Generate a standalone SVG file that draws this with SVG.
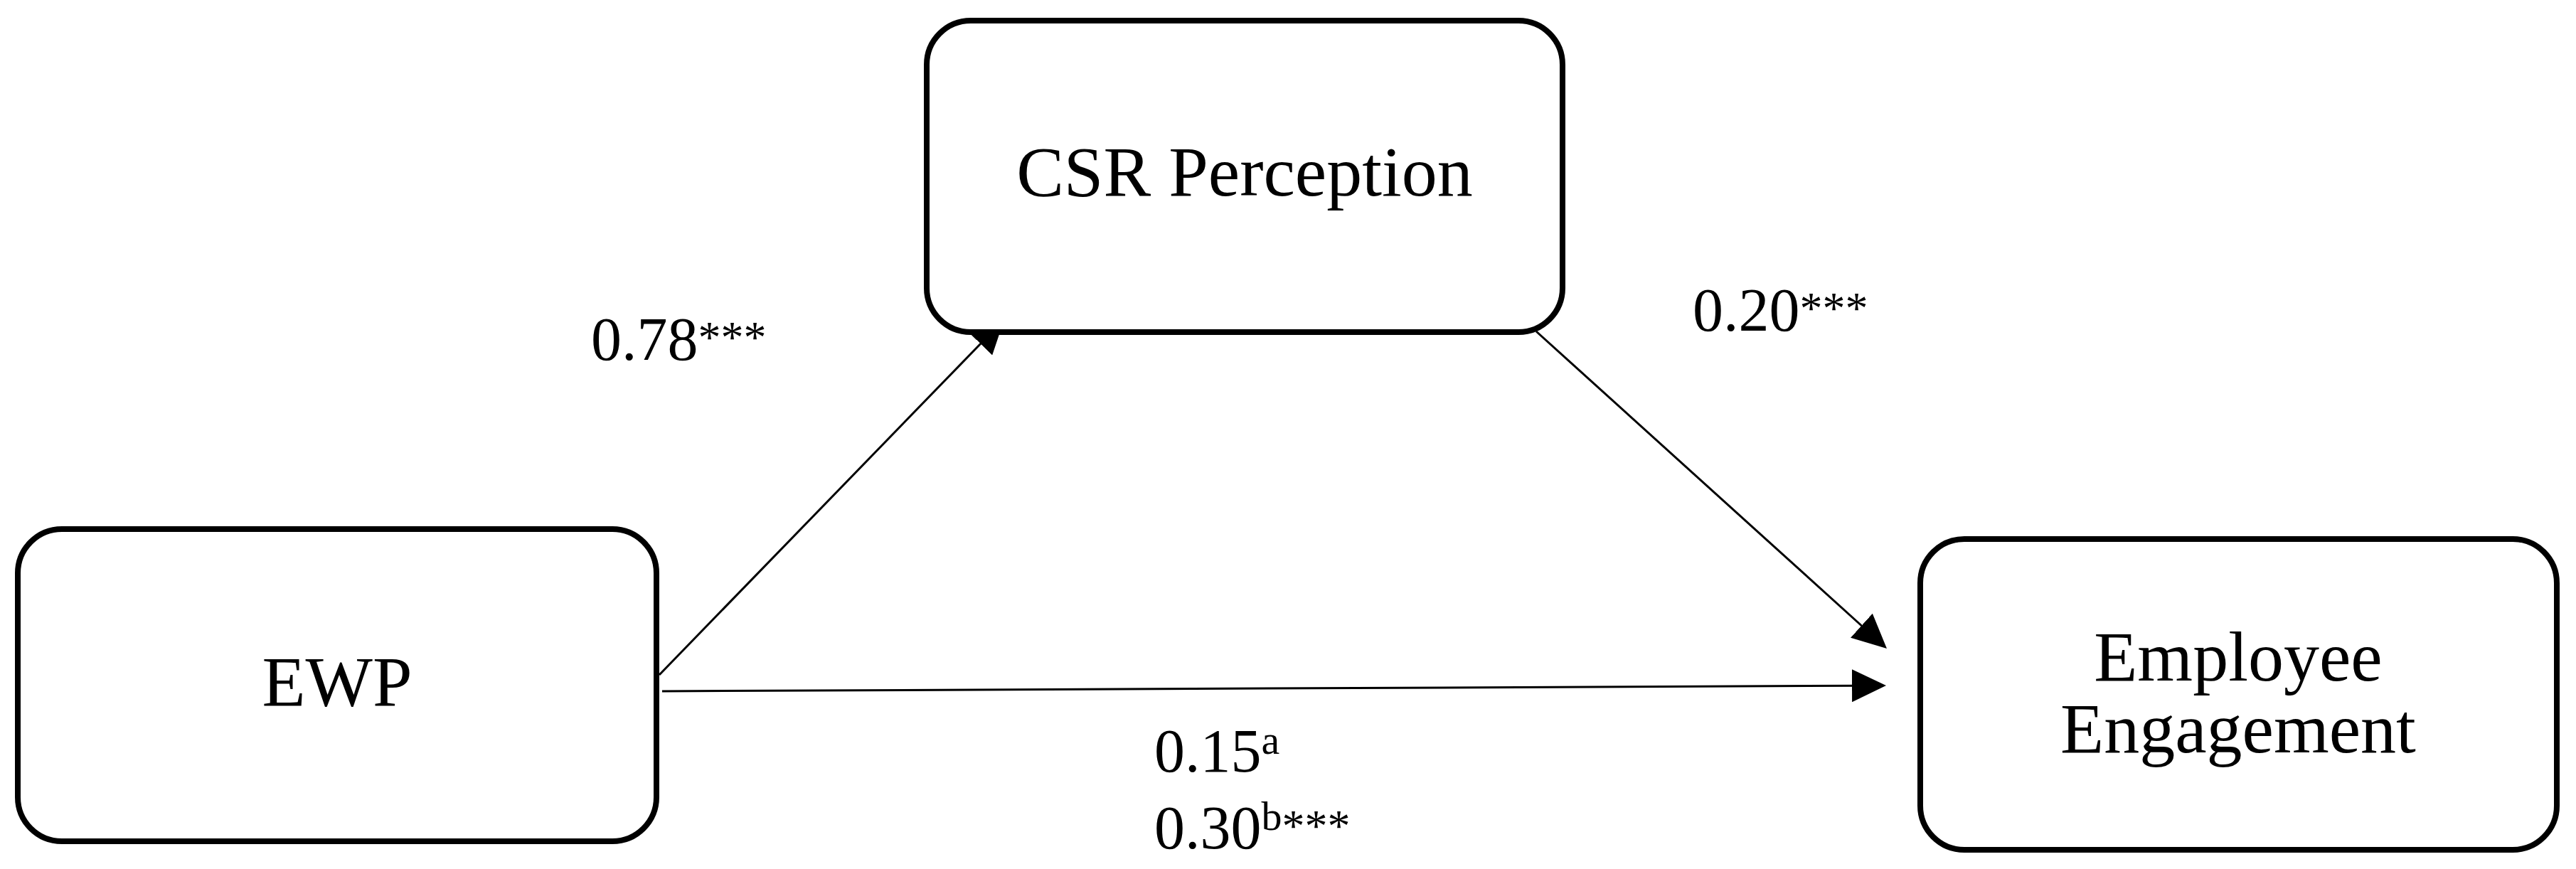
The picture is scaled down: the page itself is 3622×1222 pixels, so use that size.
<svg xmlns="http://www.w3.org/2000/svg" width="3622" height="1222" viewBox="0 0 3622 1222">
  <style>
    .box { fill: #ffffff; stroke: #000000; stroke-width: 8; }
    .node-text { font-family: "Liberation Serif", "Times New Roman", serif; font-size: 100px; fill: #000000; text-anchor: middle; }
    .label { font-family: "Liberation Serif", "Times New Roman", serif; font-size: 86px; fill: #000000; }
    .sup { font-size: 58px; }
    .ast { font-size: 64px; }
    .conn { fill: none; stroke: #000000; stroke-width: 3; }
  </style>
  <defs>
    <marker id="arrow" markerUnits="userSpaceOnUse" markerWidth="48" markerHeight="46" refX="10" refY="23" orient="auto" viewBox="0 0 48 46">
      <path d="M0,0 L48,23 L0,46 Z" fill="#000000"/>
    </marker>
  </defs>
  <rect width="3622" height="1222" fill="#ffffff"/>

  <g id="connectors">
    <path class="conn" d="M927,949 L1385.6,476.3" marker-end="url(#arrow)"/>
    <path class="conn" d="M2160,466 L2624.8,886.5" marker-end="url(#arrow)"/>
    <path class="conn" d="M931,972 L2614,964.2" marker-end="url(#arrow)"/>
  </g>

  <g id="node-csr">
    <rect class="box" x="1303" y="29" width="894" height="438" rx="62" ry="62"/>
    <text class="node-text" x="1750" y="275">CSR Perception</text>
  </g>

  <g id="node-ewp">
    <rect class="box" x="25" y="744" width="898" height="439" rx="62" ry="62"/>
    <text class="node-text" x="474" y="992">EWP</text>
  </g>

  <g id="node-engagement">
    <rect class="box" x="2700" y="758" width="895" height="437" rx="62" ry="62"/>
    <text class="node-text" x="3147" y="957">Employee</text>
    <text class="node-text" x="3147" y="1058">Engagement</text>
  </g>

  <g id="labels">
    <text class="label" x="831" y="506">0.78<tspan class="ast" dy="-10">***</tspan></text>
    <text class="label" x="2380" y="465">0.20<tspan class="ast" dy="-10">***</tspan></text>
    <text class="label" x="1623" y="1085">0.15<tspan class="sup" dy="-25">a</tspan></text>
    <text class="label" x="1623" y="1193">0.30<tspan class="sup" dy="-26">b</tspan><tspan class="ast" dy="16">***</tspan></text>
  </g>
</svg>
